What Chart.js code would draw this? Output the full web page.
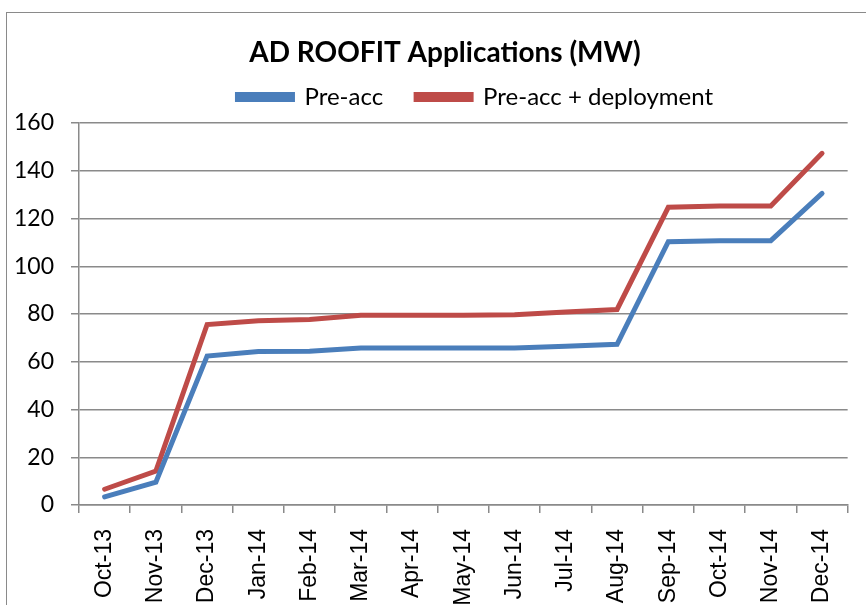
<!DOCTYPE html>
<html>
<head>
<meta charset="utf-8">
<script src="https://cdn.jsdelivr.net/npm/chart.js@4/dist/chart.umd.min.js"></script>
<style>
    html, body { margin: 0; padding: 0; background: #fff; overflow: hidden; }
    #wrap { position: relative; width: 866px; height: 605px; }
    #frame { position: absolute; left: 6px; top: 12px; width: 1000px; height: 1000px; border: 1.5px solid #8a8a8a; }
    #grafico { position: absolute; left: 0; top: 0; }
</style>
</head>
<body>
<div id="wrap">
    <div id="frame"></div>
    <canvas id="grafico" width="866" height="605"></canvas>
</div>
<script>
// Datos
const meses = ['Oct-13', 'Nov-13', 'Dec-13', 'Jan-14', 'Feb-14', 'Mar-14', 'Apr-14', 'May-14',
    'Jun-14', 'Jul-14', 'Aug-14', 'Sep-14', 'Oct-14', 'Nov-14', 'Dec-14'];
const preAcc = [3.4, 9.6, 62.4, 64.3, 64.4, 65.8, 65.8, 65.8, 65.8, 66.5, 67.3, 110.3, 110.7, 110.7, 130.5];
const preAccDeployment = [6.6, 14.2, 75.6, 77.2, 77.7, 79.5, 79.5, 79.5, 79.7, 80.8, 81.9, 124.7, 125.2, 125.2, 147.3];
const yTicks = [0, 20, 40, 60, 80, 100, 120, 140, 160];

document.addEventListener('DOMContentLoaded', function() {
    const gris = '#8a8a8a';

    // Ajustes pequeños de la cabecera: titulo y leyenda un poco a la derecha,
    // leyenda con mas hueco entre items pero sin crecer en alto
    const ajusteCabecera = {
        id: 'ajusteCabecera',
        beforeInit(chart) {
            const fitOriginal = chart.legend.fit;
            chart.legend.fit = function() {
                fitOriginal.call(this);
                this.height -= 13.6;
            };
        },
        afterLayout(chart) {
            chart.titleBlock.left += 23;
            chart.legend.left += 83.5;
            chart.legend.top -= 17.6;
        }
    };

    const ctx = document.getElementById('grafico').getContext('2d');
    const chart = new Chart(ctx, {
        type: 'line',
        data: {
            labels: meses,
            datasets: [{
                label: 'Pre-acc',
                data: preAcc,
                borderColor: '#4a7ebb',
                backgroundColor: '#4a7ebb',
                borderWidth: 5,
                pointRadius: 0,
                borderCapStyle: 'round',
                tension: 0
            }, {
                label: 'Pre-acc + deployment',
                data: preAccDeployment,
                borderColor: '#be4b48',
                backgroundColor: '#be4b48',
                borderWidth: 5,
                pointRadius: 0,
                borderCapStyle: 'round',
                tension: 0
            }]
        },
        options: {
            responsive: false,
            animation: false,
            layout: { padding: { left: 12, right: 11, top: 0, bottom: 0 } },
            scales: {
                x: {
                    offset: true,
                    grid: { display: true, offset: true, drawOnChartArea: false, drawTicks: true, tickLength: 8, color: gris, lineWidth: 1.5 },
                    border: { display: true, color: gris, width: 1.5 },
                    ticks: {
                        autoSkip: false,
                        maxRotation: 90,
                        minRotation: 90,
                        padding: 16,
                        color: '#000',
                        font: { family: 'Liberation Sans', size: 23 }
                    },
                    afterFit: function(scale) { scale.height = 100; }
                },
                y: {
                    min: 0,
                    max: 160,
                    afterBuildTicks: function(scale) { scale.ticks = yTicks.map(v => ({ value: v })); },
                    grid: { color: gris, lineWidth: 1.5, tickLength: 8 },
                    border: { display: true, color: gris, width: 1.5 },
                    ticks: {
                        padding: 17,
                        color: '#000',
                        font: { family: 'Lato', size: 23 }
                    },
                    afterFit: function(scale) { scale.width = 67; }
                }
            },
            plugins: {
                title: {
                    display: true,
                    text: 'AD ROOFIT Applications (MW)',
                    color: '#000',
                    font: { family: 'Lato', size: 28, weight: 'bold' },
                    padding: { top: 36, bottom: 0 }
                },
                legend: {
                    display: true,
                    labels: {
                        boxWidth: 55,
                        boxHeight: 5,
                        padding: 33,
                        color: '#000',
                        font: { family: 'Lato', size: 24 }
                    }
                },
                tooltip: { enabled: false }
            }
        },
        plugins: [ajusteCabecera]
    });
});
</script>
</body>
</html>
